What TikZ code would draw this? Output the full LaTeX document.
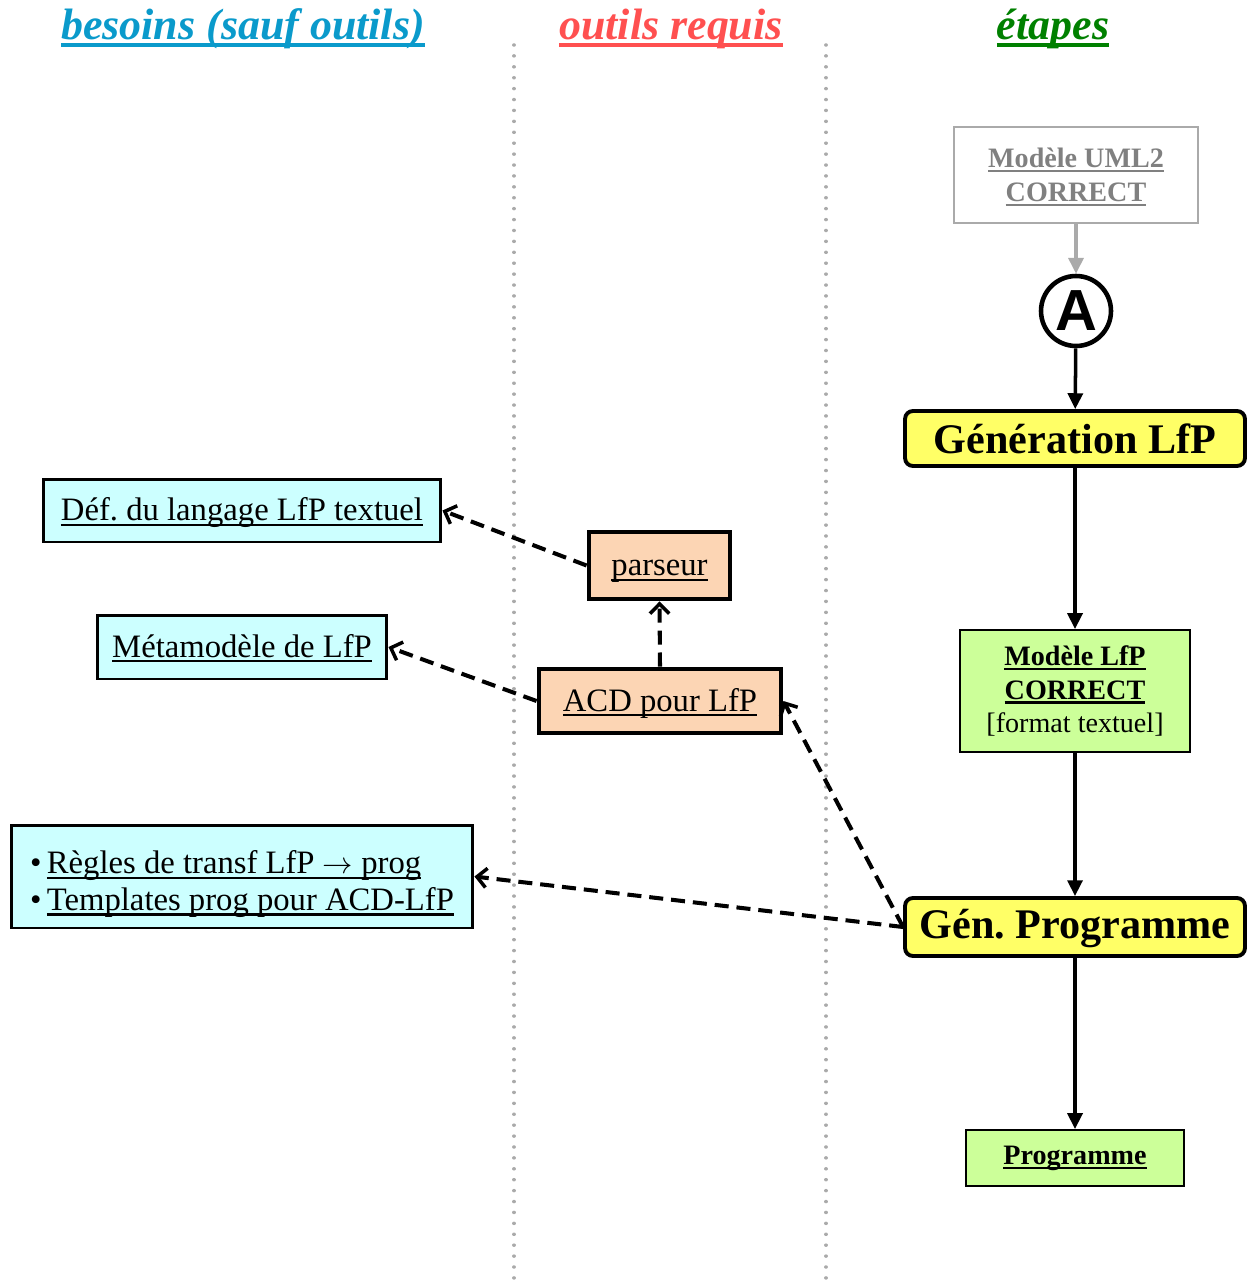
\documentclass[tikz,border=0pt]{standalone}
\usepackage{fontspec}
\setmainfont{Liberation Serif}
\newfontfamily\cerclefont{Liberation Sans}
\usetikzlibrary{arrows.meta}
\frenchspacing

\definecolor{besoincol}{HTML}{0A9ACB}
\definecolor{outilcol}{HTML}{FF5050}
\definecolor{etapecol}{HTML}{008000}
\definecolor{besoinfill}{HTML}{CCFFFF}
\definecolor{outilfill}{HTML}{FCD5B4}
\definecolor{etapefill}{HTML}{FFFF66}
\definecolor{produitfill}{HTML}{CCFF99}
\definecolor{grisclair}{HTML}{AAAAAA}
\definecolor{gristexte}{HTML}{808080}

% underline with thickness as option
\newbox\soulbox
\newcommand\souligne[2][1pt]{\begingroup\setbox\soulbox=\hbox{#2}%
  \smash{\rlap{\rule[-.16em]{\wd\soulbox}{#1}}}\box\soulbox\endgroup}

\tikzset{
  titre/.style={anchor=base, font=\bfseries\itshape\fontsize{25pt}{30pt}\selectfont},
  colonne/.style={grisclair, line width=2pt, dash pattern=on 0.01pt off 6.2pt, line cap=round},
  besoin/.style={draw, line width=1.7pt, fill=besoinfill, inner sep=0pt,
    text height=14pt, text depth=2.6pt, font=\fontsize{18.6pt}{21pt}\selectfont},
  outil/.style={draw, line width=2.8pt, fill=outilfill, inner sep=0pt,
    text height=14pt, text depth=2.6pt, font=\fontsize{18.6pt}{21pt}\selectfont},
  etape/.style={draw, line width=2.2pt, rounded corners=4.5pt, fill=etapefill, inner sep=0pt,
    font=\bfseries\fontsize{24pt}{28pt}\selectfont},
  produit/.style={draw, line width=1.1pt, fill=produitfill, inner sep=0pt, align=center,
    font=\fontsize{16pt}{19.3pt}\selectfont},
  flot/.style={line width=2pt, -{Triangle[length=9pt,width=8.5pt]}},
  usage/.style={line width=2.3pt, dash pattern=on 8pt off 4.5pt,
    -{Straight Barb[length=5.5pt,width=11pt,line width=2pt]}}
}

\begin{document}
\begin{tikzpicture}[x=0.02cm, y=-0.02cm]
\useasboundingbox (0,0) rectangle (1251,1284);

% column titles
\node[titre, besoincol] (tbesoins) at (243,40) {\souligne[2.4pt]{besoins (sauf outils)}};
\node[titre, outilcol] (toutils) at (671,40) {\souligne[2.4pt]{outils requis}};
\node[titre, etapecol] (tetapes) at (1053,40) {\souligne[2.4pt]{étapes}};

% separators
\draw[colonne] (514,45) -- (514,1284);
\draw[colonne] (826,45) -- (826,1284);

% steps column
\node[draw=grisclair, line width=1.1pt, minimum width=4.88cm, minimum height=1.92cm,
  align=center, text=gristexte, font=\bfseries\fontsize{16pt}{19.3pt}\selectfont]
  (uml) at (1076,175) {\souligne[1.2pt]{Modèle UML2}\\\souligne[1.2pt]{CORRECT}};
\node[draw, circle, line width=2.6pt, minimum size=1.4cm, inner sep=0pt,
  font=\cerclefont\bfseries\fontsize{33pt}{36pt}\selectfont] (pointA) at (1076,311) {A};
\node[etape, minimum width=6.8cm, minimum height=1.1cm] (gen) at (1075,438.5) {Génération LfP};
\node[produit, minimum width=4.6cm, minimum height=2.44cm] (lfp) at (1075,691)
  {\textbf{\souligne[1.2pt]{Modèle LfP}}\\\textbf{\souligne[1.2pt]{CORRECT}}\\{}[format textuel]};
\node[etape, minimum width=6.8cm, minimum height=1.16cm, text height=17pt, text depth=4pt]
  (genprog) at (1075,927) {Gén. Programme};
\node[produit, minimum width=4.36cm, minimum height=1.12cm] (prog) at (1075,1158)
  {\textbf{\souligne[1.2pt]{Programme}}};

% tools column
\node[outil, minimum width=2.82cm, minimum height=1.34cm] (parseur) at (659.5,565.5) {\souligne{parseur}};
\node[outil, minimum width=4.84cm, minimum height=1.28cm] (acd) at (660,701) {\souligne{ACD pour LfP}};

% needs column
\node[besoin, minimum width=7.96cm, minimum height=1.26cm] (def) at (242,510.5)
  {\souligne{Déf. du langage LfP textuel}};
\node[besoin, minimum width=5.8cm, minimum height=1.28cm] (meta) at (242,647)
  {\souligne{Métamodèle de LfP}};
\node[draw, line width=1.7pt, fill=besoinfill, inner sep=0pt, font=\fontsize{18.6pt}{21pt}\selectfont,
  minimum width=9.24cm, minimum height=2.06cm, align=left] (regles) at (242,876.5)
  {\rule{0pt}{21.6pt}\textbullet\,\souligne{Règles de transf LfP $\rightarrow$ prog}\\
   \textbullet\,\souligne[1.4pt]{Templates prog pour ACD-LfP}};

% flow
\draw[flot, grisclair] (uml) -- (pointA);
\draw[flot] (pointA) -- (gen);
\draw[flot] (gen) -- (lfp);
\draw[flot] (lfp) -- (genprog);
\draw[flot] (genprog) -- (prog);

% uses
\draw[usage] (parseur.west) -- (def.east);
\draw[usage] (acd.north) -- (parseur.south);
\draw[usage] (acd.west) -- (meta.east);
\draw[usage] (genprog.west) -- (acd.east);
\draw[usage] (genprog.west) -- (regles.east);

\end{tikzpicture}
\end{document}
